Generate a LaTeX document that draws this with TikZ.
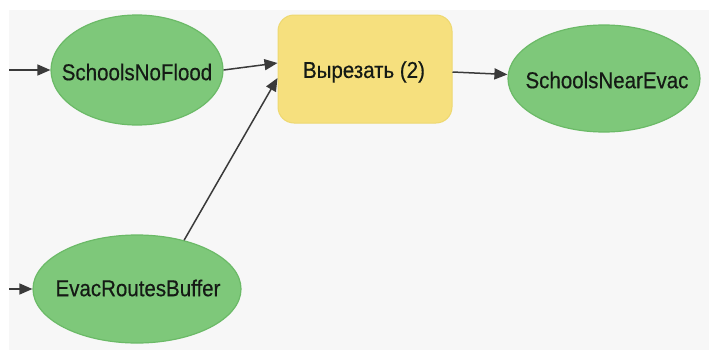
\documentclass[tikz,border=0pt]{standalone}
\usepackage{fontspec}
\setmainfont{Liberation Sans}
\newfontfamily\lblfont[FakeBold=0.45]{Liberation Sans}
\usetikzlibrary{shapes.geometric,arrows.meta}
\definecolor{bgc}{HTML}{F7F7F7}
\definecolor{grn}{HTML}{7EC87A}
\definecolor{grnb}{HTML}{6BBA67}
\definecolor{ylw}{HTML}{F6E07E}
\definecolor{ylwb}{HTML}{EED870}
\definecolor{arr}{HTML}{3A3A3A}
\definecolor{txc}{HTML}{151A15}
\newcommand{\lbl}[1]{\scalebox{1}[1.12]{#1}}
\tikzset{
  dataell/.style={ellipse, fill=grn, draw=grnb, line width=1.2pt, inner sep=0pt},
  toolbox/.style={rectangle, rounded corners=16pt, fill=ylw, draw=ylwb, line width=1pt, inner sep=0pt},
  lbltext/.style={text=txc, font=\lblfont\fontsize{20.5}{23}\selectfont, inner sep=0pt},
  conn/.style={draw=arr, line width=1.5pt, -{Triangle[length=13pt,width=11pt]}}
}
\begin{document}
\begin{tikzpicture}[x=1pt,y=-1pt]
\useasboundingbox (0,0) rectangle (709,351);
\fill[white] (0,0) rectangle (709,351);
\fill[bgc] (9,10) rectangle (709,350);
% nodes
\node[dataell, minimum width=172pt, minimum height=110pt] (snf) at (137,70) {};
\node[lbltext] (snft) at (137,72) {\lbl{SchoolsNoFlood}};
\node[toolbox, minimum width=174pt, minimum height=108pt] (box) at (365,69) {};
\node[lbltext] (boxt) at (364,72) {\lbl{Вырезать (2)}};
\node[dataell, minimum width=192pt, minimum height=107pt] (sne) at (604,78.5) {};
\node[lbltext] (snet) at (607,80) {\lbl{SchoolsNearEvac}};
\node[dataell, minimum width=208pt, minimum height=108pt] (erb) at (137,289) {};
\node[lbltext] (erbt) at (138,288) {\lbl{EvacRoutesBuffer}};
\coordinate (in1) at (9,70);
\coordinate (in2) at (9,289);
% connectors
\draw[conn] (in1) -- (snf.west);
\draw[conn] (in2) -- (erb.west);
\draw[conn] (snf.east) -- ([yshift=6pt]box.west);
\draw[conn] (erb.46) -- ([yshift=-9pt]box.west);
\draw[conn] ([yshift=-3pt]box.east) -- ([yshift=4pt]sne.west);
\end{tikzpicture}
\end{document}
